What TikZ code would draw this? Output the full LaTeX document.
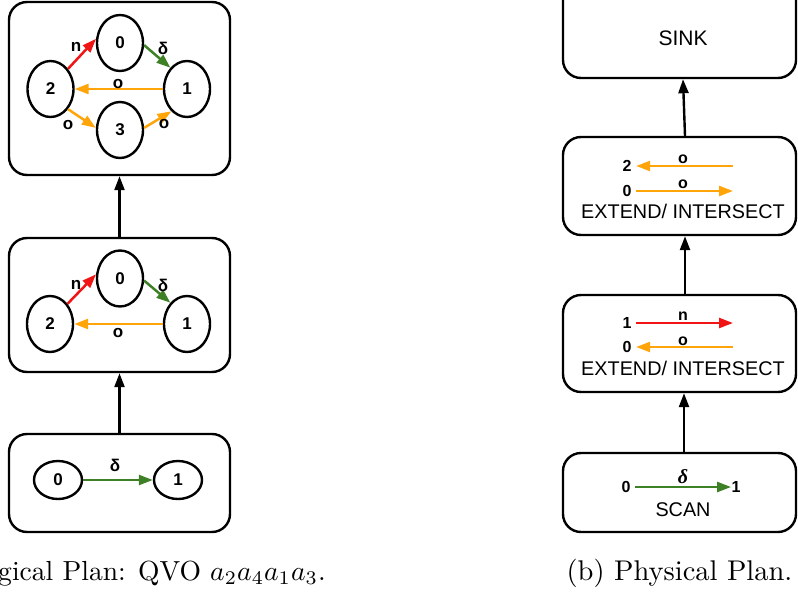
\documentclass[tikz,border=0pt]{standalone}
\usepackage{fontspec}
\newfontfamily\arialf{Liberation Sans}
\newfontfamily\timesf{Liberation Serif}
\usetikzlibrary{shapes.geometric,arrows.meta}
\definecolor{edgered}{RGB}{240,20,20}
\definecolor{edgegreen}{RGB}{62,128,38}
\definecolor{edgeorange}{RGB}{255,165,10}

\begin{document}
\begin{tikzpicture}[x=1pt,y=-1pt,
  panel/.style={draw, line width=2.4pt, rounded corners=18pt, inner sep=0pt},
  vert/.style={draw, ellipse, line width=2.4pt, minimum width=46pt,
    minimum height=56pt, inner sep=0pt,
    font=\arialf\bfseries\fontsize{17}{17}\selectfont},
  lbl/.style={inner sep=0pt, font=\arialf\bfseries\fontsize{17}{17}\selectfont},
  plbl/.style={inner sep=0pt, font=\arialf\bfseries\fontsize{16}{16}\selectfont},
  digit/.style={inner sep=4.5pt, font=\arialf\bfseries\fontsize{16}{16}\selectfont},
  optext/.style={inner sep=0pt, font=\arialf\fontsize{19.8}{20}\selectfont},
  caption/.style={inner sep=0pt, font=\fontsize{10}{12}\selectfont},
  tip/.style={-{Triangle[length=14pt,width=10pt]}},
  flow/.style={draw, line width=2.4pt, tip},
  redge/.style={draw=edgered, line width=2.5pt, tip, edgered},
  gedge/.style={draw=edgegreen, line width=2.5pt, tip, edgegreen},
  oedge/.style={draw=edgeorange, line width=2.5pt, tip, edgeorange},
]
\useasboundingbox (0,0) rectangle (798,597);
\clip (0,0) rectangle (798,597);

% ---------- logical plan ----------
\node[panel, minimum width=221pt, minimum height=98pt]  (lq1) at (119.5,483) {};
\node[panel, minimum width=221pt, minimum height=134pt] (lq2) at (119.5,305) {};
\node[panel, minimum width=221pt, minimum height=173pt] (lq3) at (119.5,88.5) {};

% bottom: single edge
\node[vert, minimum width=48pt, minimum height=38pt] (c0) at (58,480) {0};
\node[vert, minimum width=48pt, minimum height=38pt] (c1) at (178,480) {1};
\draw[gedge] (c0) -- (c1);
\node[lbl] (cd) at (115,465) {δ};

% middle: triangle
\node[vert] (b0) at (120,278.5) {0};
\node[vert] (b2) at (50,324) {2};
\node[vert] (b1) at (187,324) {1};
\draw[redge] (b2.49) -- (b0.170);
\draw[gedge] (b0.-5) -- (b1.128);
\draw[oedge] (b1.west) -- (b2.east);
\node[lbl] (bn) at (76,285) {n};
\node[lbl] (bd) at (163,285) {δ};
\node[lbl] (bo) at (118,333) {o};

% top: four vertices
\node[vert] (a0) at (120,43) {0};
\node[vert] (a2) at (50.5,89) {2};
\node[vert] (a1) at (187,89) {1};
\node[vert] (a3) at (120,130) {3};
\draw[redge] (a2.49) -- (a0.170);
\draw[gedge] (a0.-5) -- (a1.128);
\draw[oedge] (a1.west) -- (a2.east);
\draw[oedge] (a2.-49) -- (a3.175);
\draw[oedge] (a3.5) -- (a1.235);
\node[lbl] (an) at (76,47) {n};
\node[lbl] (ad) at (163,48) {δ};
\node[lbl] (ao1) at (118,84.5) {o};
\node[lbl] (ao2) at (68,125) {o};
\node[lbl] (ao3) at (164,124) {o};

\draw[flow] (lq1.north) -- (lq2.south);
\draw[flow] (lq2.north) -- (lq3.south);

\node[caption, anchor=base west] (capa) at (-2,580)
  {\scalebox{2.76}{gical Plan: QVO $a_2a_4a_1a_3$.}};

% ---------- physical plan ----------
\node[panel, minimum width=233pt, minimum height=79pt] (pp1) at (679.5,492.5) {};
\node[panel, minimum width=233pt, minimum height=97pt] (pp2) at (679.5,343.5) {};
\node[panel, minimum width=233pt, minimum height=98pt] (pp3) at (679.5,186) {};
\node[panel, minimum width=233pt, minimum height=97pt] (pp4) at (679.5,29.5) {};

% scan
\node[digit] (s0) at (626,487) {0};
\node[digit, inner xsep=0.3pt] (s1) at (736,487) {1};
\draw[gedge] (s0) -- (s1);
\node[inner sep=0pt, font=\timesf\bfseries\itshape\fontsize{20}{20}\selectfont] (sd) at (683,477) {δ};
\node[optext] (st) at (683,510) {SCAN};

% first extend/intersect
\node[digit] (e1a) at (627,323) {1};
\coordinate (e1ae) at (733,323);
\draw[redge] (e1a) -- (e1ae);
\node[plbl] (e1n) at (683,316) {n};
\node[digit] (e1b) at (627,347) {0};
\coordinate (e1be) at (733,347);
\draw[oedge] (e1be) -- (e1b);
\node[plbl] (e1o) at (683,341) {o};
\node[optext] (e1t) at (683,368) {EXTEND/ INTERSECT};

% second extend/intersect
\node[digit] (e2a) at (627,166) {2};
\coordinate (e2ae) at (733,166);
\draw[oedge] (e2ae) -- (e2a);
\node[plbl] (e2o1) at (683,159) {o};
\node[digit] (e2b) at (627,191) {0};
\coordinate (e2be) at (733,191);
\draw[oedge] (e2b) -- (e2be);
\node[plbl] (e2o2) at (683,184) {o};
\node[optext] (e2t) at (683,211) {EXTEND/ INTERSECT};

% sink
\node[optext, font=\arialf\fontsize{21}{21}\selectfont] (sink) at (683,38) {SINK};

\draw[flow] ([xshift=4.5pt]pp1.north) -- ([xshift=4.5pt]pp2.south);
\draw[flow] ([xshift=5.5pt]pp2.north) -- ([xshift=5.5pt]pp3.south);
\draw[flow] ([xshift=5.5pt]pp3.north) -- ([xshift=3.5pt]pp4.south);

\node[caption, anchor=base] (capb) at (679.5,580)
  {\scalebox{2.85}{(b) Physical Plan.}};
\end{tikzpicture}
\end{document}
